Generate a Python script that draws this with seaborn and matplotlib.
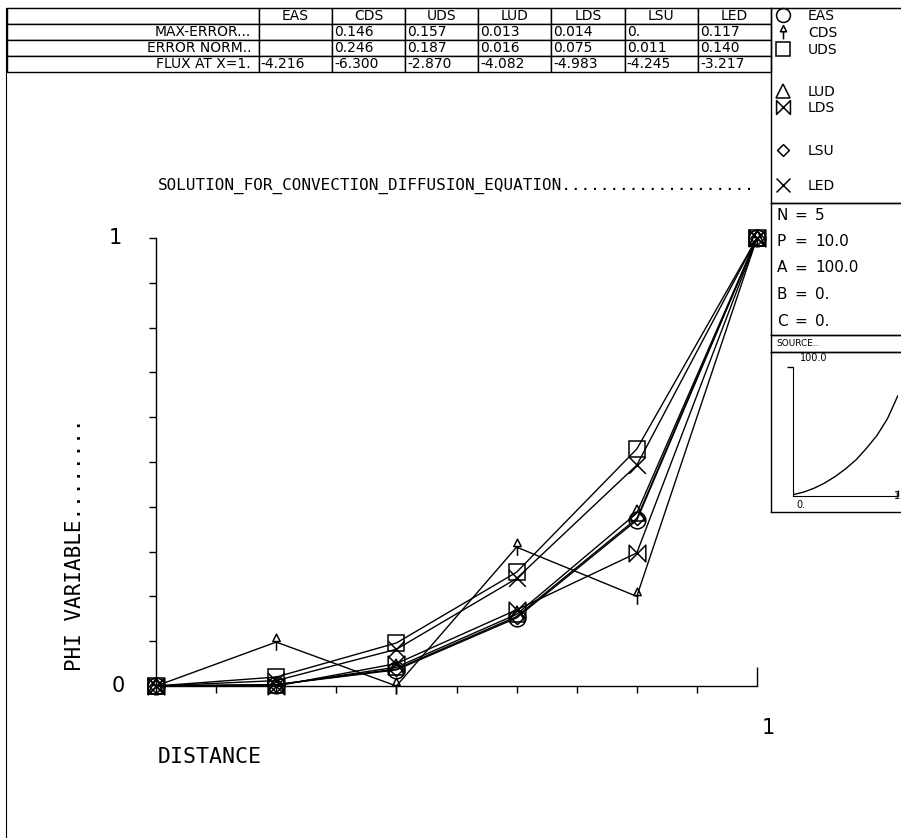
import numpy as np
import pandas as pd
import matplotlib
matplotlib.use("Agg")
import matplotlib.pyplot as plt
import seaborn as sns
from matplotlib.path import Path
from matplotlib.lines import Line2D

# %% values read off the plotter output
schemes = ["EAS", "CDS", "UDS", "LUD", "LDS", "LSU", "LED"]
distance = [0.0, 0.2, 0.4, 0.6, 0.8, 1.0]
phi_eas = [0.0, 0.003, 0.036, 0.152, 0.370, 1.0]
phi_cds = [0.0, 0.098, 0.000, 0.310, 0.200, 1.0]
phi_uds = [0.0, 0.020, 0.096, 0.254, 0.529, 1.0]
phi_lud = [0.0, 0.002, 0.042, 0.160, 0.386, 1.0]
phi_lds = [0.0, 0.000, 0.050, 0.170, 0.297, 1.0]
phi_lsu = [0.0, 0.003, 0.038, 0.155, 0.374, 1.0]
phi_led = [0.0, 0.012, 0.082, 0.240, 0.493, 1.0]

row_labels = ["MAX-ERROR...", "ERROR NORM..", "FLUX AT X=1."]
max_error = ["", "0.146", "0.157", "0.013", "0.014", "0.", "0.117"]
error_norm = ["", "0.246", "0.187", "0.016", "0.075", "0.011", "0.140"]
flux = ["-4.216", "-6.300", "-2.870", "-4.082", "-4.983", "-4.245", "-3.217"]

param_names = ["N", "P", "A", "B", "C"]
param_values = ["5", "10.0", "100.0", "0.", "0."]

source_x = [0.0, 0.1, 0.2, 0.3, 0.4, 0.5, 0.6, 0.7, 0.8, 0.9, 1.0]
source_y = [1, 3, 6, 10, 15, 21, 28, 37, 47, 60, 78]

# %% helpers
W, H = 901, 838


def rect(x0, y0, x1, y1):
    # pixel box (top-left origin) -> figure fraction
    return [x0 / W, 1 - y1 / H, (x1 - x0) / W, (y1 - y0) / H]


def boxed(r):
    a = fig.add_axes(r)
    a.set_xticks([])
    a.set_yticks([])
    a.patch.set_alpha(0)
    for s in a.spines.values():
        s.set_linewidth(1.0)
        s.set_color("black")
    return a


# custom plotter markers (a stray MOVETO corner keeps the diamond small)
cds_marker = Path([(-0.4, 0.1), (0, 0.9), (0.4, 0.1), (-0.4, 0.1), (0, 0.1), (0, -0.9)],
                  [Path.MOVETO, Path.LINETO, Path.LINETO, Path.CLOSEPOLY, Path.MOVETO, Path.LINETO])
bowtie = Path([(-1, 1), (1, -1), (1, 1), (-1, -1), (-1, 1)],
              [Path.MOVETO, Path.LINETO, Path.LINETO, Path.LINETO, Path.CLOSEPOLY])
cross = Path([(-1, -1), (1, 1), (-1, 1), (1, -1)],
             [Path.MOVETO, Path.LINETO, Path.MOVETO, Path.LINETO])
diamond = Path([(0, 0.85), (0.85, 0), (0, -0.85), (-0.85, 0), (0, 0.85), (1, 1)],
               [Path.MOVETO, Path.LINETO, Path.LINETO, Path.LINETO, Path.CLOSEPOLY, Path.MOVETO])
marker_map = {"EAS": "o", "CDS": cds_marker, "UDS": "s", "LUD": "^",
              "LDS": bowtie, "LSU": diamond, "LED": cross}

# %% figure
sns.set_style("white")
plt.rcParams["font.family"] = ["DejaVu Sans"]
plt.rcParams["text.color"] = "black"
fig = plt.figure(figsize=(W / 100, H / 100), dpi=100)

# outer frame (left + top only, rest is cut off)
frame = fig.add_axes(rect(6, 8, 905, 850))
frame.set_xticks([])
frame.set_yticks([])
frame.patch.set_alpha(0)
frame.spines["right"].set_visible(False)
frame.spines["bottom"].set_visible(False)
for s in ["left", "top"]:
    frame.spines[s].set_color("black")

# %% error table
tab_ax = fig.add_axes(rect(7, 8, 771, 72))
tab_ax.axis("off")
cells = [[""] + schemes,
         [row_labels[0]] + max_error,
         [row_labels[1]] + error_norm,
         [row_labels[2]] + flux]
col_w = [251] + [73] * 7
table = tab_ax.table(cellText=cells, colWidths=[c / sum(col_w) for c in col_w],
                     cellLoc="left", bbox=[0, 0, 1, 1])
table.auto_set_font_size(False)
table.set_fontsize(10)
for (r, c), cell in table.get_celld().items():
    cell.set_linewidth(1.0)
    cell.PAD = 0.03
    cell.get_text().set_color("black")
    if r == 0:
        cell._loc = "center"
        cell.get_text().set_ha("center")
    elif c == 0:
        cell._loc = "right"
        cell.get_text().set_ha("right")

# %% main plot
ax = fig.add_axes(rect(156, 238, 757, 686))
df = pd.DataFrame({
    "distance": distance * len(schemes),
    "phi": phi_eas + phi_cds + phi_uds + phi_lud + phi_lds + phi_lsu + phi_led,
    "scheme": np.repeat(schemes, len(distance)),
})
sns.lineplot(data=df, x="distance", y="phi", style="scheme", markers=marker_map,
             dashes=False, color="black", estimator=None, legend=False, ax=ax,
             lw=1.0, markersize=12, markerfacecolor="none", markeredgecolor="black",
             markeredgewidth=1.1, clip_on=False)
ax.set_xlim(0, 1)
ax.set_ylim(0, 1)
ax.set_xlabel("")
ax.set_ylabel("")
sns.despine(ax=ax)
for s in ["left", "bottom"]:
    ax.spines[s].set_linewidth(1.0)
    ax.spines[s].set_color("black")
ax.patch.set_alpha(0)
ax.set_xticks(np.round(np.arange(0.1, 1.0, 0.1), 1))
ax.set_xticklabels([])
ax.set_xticks([1.0], minor=True)
ax.set_yticks(np.round(np.arange(0.1, 1.01, 0.1), 1))
ax.set_yticklabels([])
ax.tick_params(axis="both", which="major", direction="out", length=5, width=1,
               color="black", bottom=True, left=True)
ax.tick_params(axis="x", which="minor", direction="in", length=14, width=1,
               color="black", bottom=True)

ax.text(-0.068, 1.0, "1", transform=ax.transAxes, ha="center", va="center", fontsize=15)
ax.text(-0.063, 0.0, "0", transform=ax.transAxes, ha="center", va="center", fontsize=15)
ax.text(1.018, -0.094, "1", transform=ax.transAxes, ha="center", va="center", fontsize=15)
ax.text(0.003, -0.158, "DISTANCE", transform=ax.transAxes, ha="left", va="center",
        fontsize=15.5, family="DejaVu Sans Mono")
ax.text(-0.135, 0.315, "PHI VARIABLE........", transform=ax.transAxes, rotation=90,
        ha="center", va="center", fontsize=15, family="DejaVu Sans Mono")
ax.text(0.003, 1.116, "SOLUTION_FOR_CONVECTION_DIFFUSION_EQUATION....................",
        transform=ax.transAxes, ha="left", va="center", fontsize=11.5,
        family="DejaVu Sans Mono")

# %% legend / parameter panel on the right
boxed(rect(771, 8, 910, 203))
boxed(rect(771, 203, 910, 335))
src_lab = boxed(rect(771, 335, 910, 352))
boxed(rect(771, 352, 910, 512))

legend_y = [16, 33, 50, 92, 108, 151, 186]
for lab, y in zip(schemes, legend_y):
    h = Line2D([], [], marker=marker_map[lab], ls="none", mfc="none", mec="black",
               mew=1.1, ms=10)
    fig.legend(handles=[h], labels=[lab], loc="center left",
               bbox_to_anchor=(776 / W, 1 - y / H), frameon=False, handlelength=1,
               handletextpad=1.3, borderpad=0, borderaxespad=0, fontsize=10)

for i, (n, v) in enumerate(zip(param_names, param_values)):
    y = 1 - (215 + 26.5 * i) / H
    fig.text(777 / W, y, n, ha="left", va="center", fontsize=11)
    fig.text(794 / W, y, "=", ha="left", va="center", fontsize=11)
    fig.text(815 / W, y, v, ha="left", va="center", fontsize=11)

src_lab.text(0.04, 0.5, "SOURCE..", transform=src_lab.transAxes, ha="left",
             va="center", fontsize=6.5)

# source sketch
ax_src = fig.add_axes(rect(793, 367, 898, 496))
sns.lineplot(x=source_x, y=source_y, color="black", lw=1.0, ax=ax_src)
ax_src.set_xlim(0, 1)
ax_src.set_ylim(0, 100)
sns.despine(ax=ax_src)
for s in ["left", "bottom"]:
    ax_src.spines[s].set_color("black")
ax_src.patch.set_alpha(0)
ax_src.set_xticks([1.0])
ax_src.set_xticklabels([])
ax_src.set_yticks([100])
ax_src.set_yticklabels([])
ax_src.tick_params(axis="y", direction="out", length=4, width=1, left=True, color="black")
ax_src.tick_params(axis="x", direction="in", length=4, width=1, bottom=True, color="black")
ax_src.text(0.07, 1.07, "100.0", transform=ax_src.transAxes, ha="left", va="center",
            fontsize=7)
ax_src.text(0.03, -0.07, "0.", transform=ax_src.transAxes, ha="left", va="center",
            fontsize=7)
ax_src.text(1.02, 0.0, "1", transform=ax_src.transAxes, ha="right", va="center",
            fontsize=7)

fig.savefig("out.png", dpi=100)
